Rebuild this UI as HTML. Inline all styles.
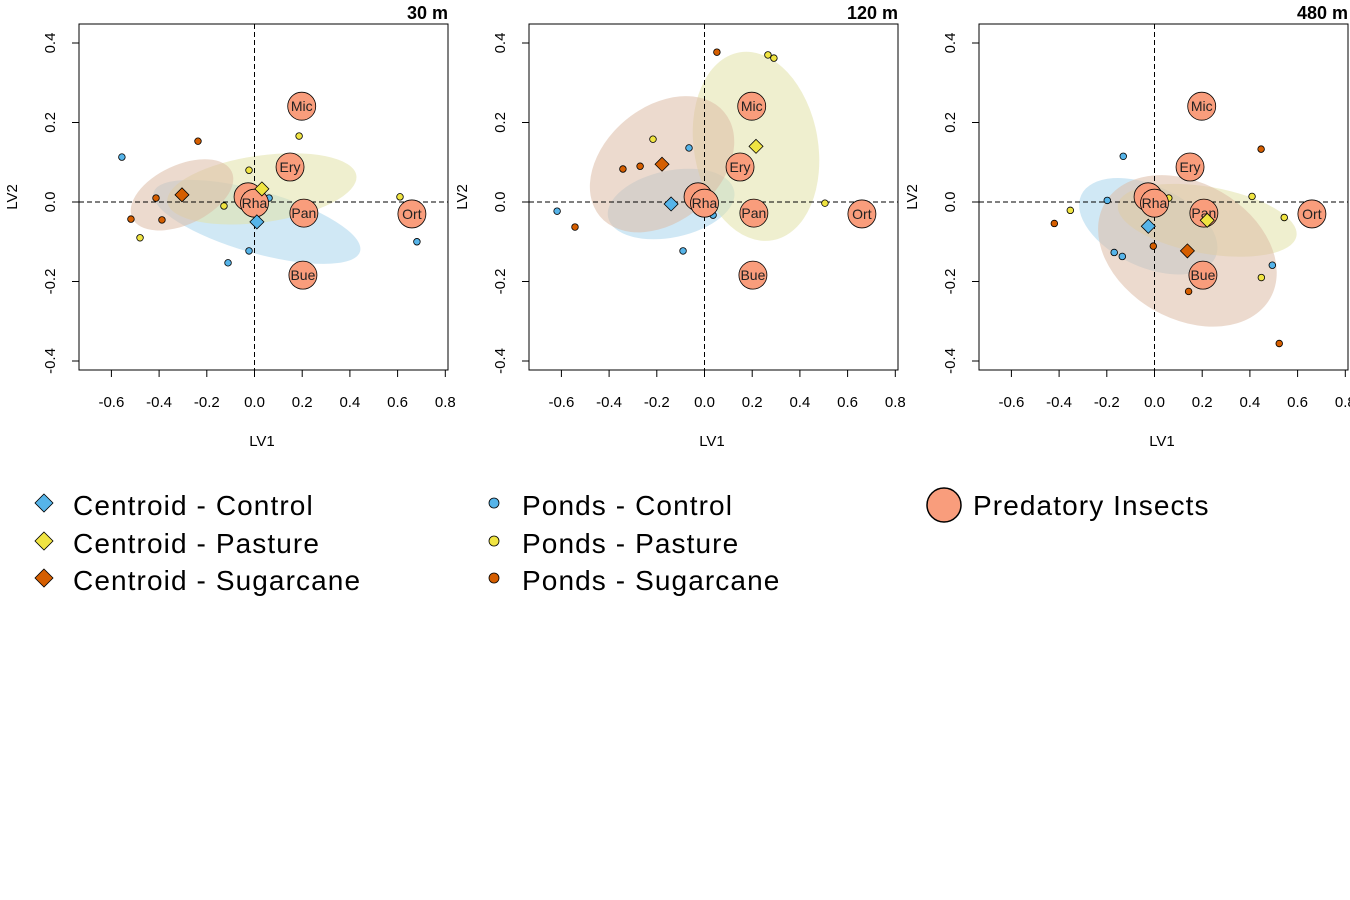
<!DOCTYPE html>
<html><head><meta charset="utf-8">
<style>
body{margin:0;background:#fff;}
svg{display:block;font-family:"Liberation Sans",Arial,sans-serif;}
</style></head>
<body>
<svg id="chart" width="1350" height="900" viewBox="0 0 1350 900"></svg>
<script>
// ---------- data ----------
const panelTitles = ["30 m", "120 m", "480 m"];
const xTicks = [-0.6, -0.4, -0.2, 0.0, 0.2, 0.4, 0.6, 0.8];
const yTicks = [-0.4, -0.2, 0.0, 0.2, 0.4];
const speciesNames = ["R", "Rha", "Mic", "Ery", "Pan", "Bue", "Ort"];
const speciesX = [-0.027, 0.0, 0.198, 0.149, 0.207, 0.203, 0.66];
const speciesY = [0.013, -0.003, 0.241, 0.088, -0.028, -0.184, -0.03];
const pondsControlX = [[-0.556, 0.061, -0.023, -0.111, 0.681], [-0.618, -0.065, 0.036, -0.09], [-0.131, -0.198, -0.169, -0.135, 0.494]];
const pondsControlY = [[0.113, 0.01, -0.123, -0.153, -0.1], [-0.023, 0.136, -0.033, -0.123], [0.115, 0.004, -0.127, -0.137, -0.159]];
const pondsPastureX = [[0.187, -0.023, -0.128, -0.48, 0.61], [-0.216, 0.266, 0.291, 0.505], [-0.353, 0.06, 0.409, 0.544, 0.448]];
const pondsPastureY = [[0.166, 0.08, -0.01, -0.09, 0.013], [0.158, 0.37, 0.362, -0.003], [-0.021, 0.01, 0.014, -0.039, -0.19]];
const pondsSugarX = [[-0.237, -0.413, -0.518, -0.388], [-0.342, -0.27, -0.543, 0.052], [-0.42, -0.005, 0.447, 0.143, 0.523]];
const pondsSugarY = [[0.153, 0.01, -0.043, -0.045], [0.083, 0.09, -0.063, 0.377], [-0.054, -0.111, 0.133, -0.225, -0.356]];
const centroidX = [[0.01, 0.031, -0.304], [-0.14, 0.216, -0.178], [-0.026, 0.221, 0.138]];
const centroidY = [[-0.05, 0.033, 0.018], [-0.005, 0.14, 0.095], [-0.061, -0.046, -0.123]];
const ellipseA = [[0.45, 0.40, 0.23], [0.27, 0.40, 0.34], [0.31, 0.38, 0.40]];
const ellipseB = [[0.13, 0.14, 0.125], [0.14, 0.26, 0.24], [0.17, 0.14, 0.285]];
const ellipseAng = [[16, -8, -25], [-12, 80, -40], [25, 10, 30]];

const groupNames = ["control", "pasture", "sugarcane"];
const groupColors = ["#56B4E9", "#F0E442", "#D55E00"];
const ellipseFill = ["#a9d6ec", "#e2e2a8", "#dcbba5"];

// ---------- drawing ----------
const NS = "http://www.w3.org/2000/svg";
const svg = document.getElementById("chart");
function mk(tag, attrs, parent) {
  const e = document.createElementNS(NS, tag);
  for (const k in attrs) e.setAttribute(k, attrs[k]);
  (parent || svg).appendChild(e);
  return e;
}
const SX = 238.5, SY = 397.5;
function fmt(v) { return (Math.abs(v) < 1e-9 ? 0 : v).toFixed(1); }
function diamond(cx, cy, r) { return `${cx},${cy - r} ${cx + r},${cy} ${cx},${cy + r} ${cx - r},${cy}`; }

for (let p = 0; p < 3; p++) {
  const off = p * 450;
  const x0 = 254.5 + off, y0 = 202;
  const X = v => x0 + v * SX;
  const Y = v => y0 - v * SY;
  const g = mk("g", {});
  
  

  for (let k = 0; k < 3; k++) {
    const e = mk("ellipse", {cx: X(centroidX[p][k]), cy: Y(centroidY[p][k]), rx: ellipseA[p][k] * SX, ry: ellipseB[p][k] * SX,
      transform: `rotate(${ellipseAng[p][k]} ${X(centroidX[p][k])} ${Y(centroidY[p][k])})`, fill: ellipseFill[k], "fill-opacity": 0.55}, g);
    
    
  }
  const fr = mk("rect", {x: 79 + off, y: 24, width: 369, height: 346, fill: "none", stroke: "#000", "stroke-width": 1}, g);
  
  
  mk("line", {x1: 79 + off, x2: 448 + off, y1: Y(0), y2: Y(0), stroke: "#000", "stroke-dasharray": "5,3"}, g);
  mk("line", {x1: X(0), x2: X(0), y1: 24, y2: 370, stroke: "#000", "stroke-dasharray": "5,3"}, g);
  xTicks.forEach(t => {
    mk("line", {x1: X(t), x2: X(t), y1: 370, y2: 377, stroke: "#000"}, g);
    const tx = mk("text", {x: X(t), y: 407, "text-anchor": "middle", "font-size": 15, fill: "#000"}, g);
    tx.textContent = fmt(t);
    
    
  });
  yTicks.forEach(t => {
    mk("line", {x1: 72 + off, x2: 79 + off, y1: Y(t), y2: Y(t), stroke: "#000"}, g);
    const tx = mk("text", {x: 0, y: 0, "text-anchor": "middle", "font-size": 15, fill: "#000",
      transform: `translate(${55 + off},${Y(t)}) rotate(-90)`}, g);
    tx.textContent = fmt(t);
    
    
  });
  const xl = mk("text", {x: 262 + off, y: 446, "text-anchor": "middle", "font-size": 15}, g);
  xl.textContent = "LV1";
  
  
  const yl = mk("text", {x: 0, y: 0, "text-anchor": "middle", "font-size": 15, transform: `translate(${17 + off},197) rotate(-90)`}, g);
  yl.textContent = "LV2";
  
  
  const tt = mk("text", {x: 448 + off, y: 19, "text-anchor": "end", "font-size": 18, "font-weight": "bold"}, g);
  tt.textContent = panelTitles[p];
  
  

  const pxs = [pondsControlX[p], pondsPastureX[p], pondsSugarX[p]];
  const pys = [pondsControlY[p], pondsPastureY[p], pondsSugarY[p]];
  for (let k = 0; k < 3; k++) {
    pxs[k].forEach((v, i) => {
      const c = mk("circle", {cx: X(v), cy: Y(pys[k][i]), r: 3.3, fill: groupColors[k], stroke: "#000", "stroke-width": 0.8}, g);
      
      
    });
  }
  speciesNames.forEach((n, i) => {
    const c = mk("circle", {cx: X(speciesX[i]), cy: Y(speciesY[i]), r: 14, fill: "#F99D7C", stroke: "#000", "stroke-width": 0.8}, g);
    
    
    const t = mk("text", {x: X(speciesX[i]), y: Y(speciesY[i]) + 5, "text-anchor": "middle", "font-size": 14, fill: "#222"}, g);
    t.textContent = n;
    
    
  });
  for (let k = 0; k < 3; k++) {
    const d = mk("polygon", {points: diamond(X(centroidX[p][k]), Y(centroidY[p][k]), 7), fill: groupColors[k], stroke: "#000", "stroke-width": 0.8}, g);
    
    
  }
}

// ---------- legend ----------
const legendLabels1 = ["Centroid - Control", "Centroid - Pasture", "Centroid - Sugarcane"];
const legendLabels2 = ["Ponds - Control", "Ponds - Pasture", "Ponds - Sugarcane"];
const legY = [505, 543, 580];
const lg = mk("g", {});


for (let k = 0; k < 3; k++) {
  const d = mk("polygon", {points: diamond(44, legY[k] - 2, 9), fill: groupColors[k], stroke: "#000", "stroke-width": 0.8}, lg);
  
  
  const t = mk("text", {x: 73, y: legY[k] + 10, "font-size": 28, "letter-spacing": 1.1}, lg);
  t.textContent = legendLabels1[k];
  
  
  const c = mk("circle", {cx: 494, cy: legY[k] - 2, r: 5, fill: groupColors[k], stroke: "#000", "stroke-width": 0.8}, lg);
  
  
  const t2 = mk("text", {x: 522, y: legY[k] + 10, "font-size": 28, "letter-spacing": 1.1}, lg);
  t2.textContent = legendLabels2[k];
  
  
}
const bc = mk("circle", {cx: 944, cy: 505, r: 17, fill: "#F99D7C", stroke: "#000", "stroke-width": 1.5}, lg);


const bt = mk("text", {x: 973, y: 515, "font-size": 28, "letter-spacing": 1.1}, lg);
bt.textContent = "Predatory Insects";


</script>
</body></html>
